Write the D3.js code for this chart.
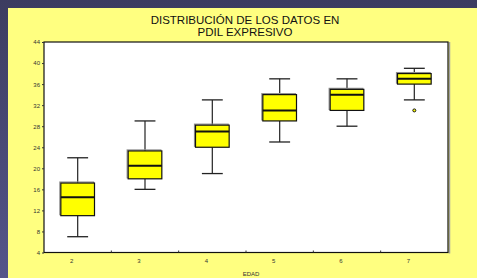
<!DOCTYPE html>
<html>
<head>
<meta charset="utf-8">
<script src="https://cdn.jsdelivr.net/npm/d3@7"></script>
<style>
  html, body { margin: 0; padding: 0; background: #3d3d62; }
  svg { display: block; }
</style>
</head>
<body>
<div id="chart"></div>
<script>
// data
var ages = ["2", "3", "4", "5", "6", "7"];
var whiskerLow = [7, 16, 19, 25, 28, 33];
var q1 = [11, 18, 24, 29, 31, 36];
var median = [14.5, 20.5, 27, 31, 34, 37];
var q3 = [17.2, 23.3, 28.2, 34, 35, 38];
var whiskerHigh = [22, 29, 33, 37, 37, 39];
var outliers = [{ age: "7", value: 31 }];
var yTicks = [4, 8, 12, 16, 20, 24, 28, 32, 36, 40, 44];

var W = 477, H = 278;
var margin = { top: 42, right: 29, bottom: 25.5, left: 44 };

var svg = d3.select("#chart").append("svg")
  .attr("width", W).attr("height", H);

// background gradient on the dark border
var defs = svg.append("defs");
var grad = defs.append("linearGradient").attr("id", "bg")
  .attr("x1", 0).attr("y1", 0).attr("x2", 0).attr("y2", 1);
grad.append("stop").attr("offset", "0%").attr("stop-color", "#3c3c60");
grad.append("stop").attr("offset", "100%").attr("stop-color", "#55558a");
svg.append("rect").attr("width", W).attr("height", H).attr("fill", "url(#bg)");

// yellow panel
svg.append("rect").attr("x", 8).attr("y", 8).attr("width", W - 8).attr("height", H - 8)
  .attr("fill", "#ffff80");

// title
var title = svg.append("text")
  .attr("text-anchor", "middle")
  .attr("font-family", "Liberation Sans, Arial, sans-serif")
  .attr("font-size", 11.5)
  .attr("fill", "#111");
title.append("tspan").attr("x", 245).attr("y", 24).text("DISTRIBUCIÓN DE LOS DATOS EN");
title.append("tspan").attr("x", 245).attr("y", 36).text("PDIL EXPRESIVO");

var pw = W - margin.left - margin.right;
var ph = H - margin.top - margin.bottom;

var g = svg.append("g").attr("transform", "translate(" + margin.left + "," + margin.top + ")");

var x = d3.scaleBand().domain(ages).range([0, pw]).padding(0);
var y = d3.scaleLinear().domain([4, 44]).range([ph, 0]);

// plot frame with a grey shadow on the right
g.append("line").attr("x1", pw + 1.5).attr("x2", pw + 1.5).attr("y1", 0).attr("y2", ph + 1)
  .attr("stroke", "#a0a0a0").attr("stroke-width", 1.5);
g.append("rect").attr("x", 0).attr("y", 0).attr("width", pw).attr("height", ph)
  .attr("fill", "#fff").attr("stroke", "#111").attr("stroke-width", 1.2);

// y axis
var yAxis = g.append("g")
  .call(d3.axisLeft(y).tickValues(yTicks).tickSize(2).tickPadding(2));
yAxis.select(".domain").remove();
yAxis.selectAll("text").attr("font-family", "Liberation Sans, Arial, sans-serif")
  .attr("font-size", 6).attr("fill", "#333");
yAxis.selectAll("line").attr("stroke", "#333");

// x axis: ticks at band boundaries, labels near the band centres
var bounds = ages.slice(1).map(function(a) { return x(a); });
g.selectAll(".xtick").data(bounds).enter().append("line")
  .attr("x1", function(d) { return d; }).attr("x2", function(d) { return d; })
  .attr("y1", ph).attr("y2", ph - 2)
  .attr("stroke", "#333");
g.selectAll(".xlab").data(ages).enter().append("text")
  .attr("x", function(d) { return x(d) + x.bandwidth() / 2 - 6; })
  .attr("y", ph + 10)
  .attr("text-anchor", "middle")
  .attr("font-family", "Liberation Sans, Arial, sans-serif")
  .attr("font-size", 6).attr("fill", "#333")
  .text(function(d) { return d; });

svg.append("text").attr("x", 251).attr("y", 276)
  .attr("text-anchor", "middle")
  .attr("font-family", "Liberation Sans, Arial, sans-serif")
  .attr("font-size", 6).attr("fill", "#333")
  .text("EDAD");

// boxes
var bw = x.bandwidth() / 2;
var capW = bw * 0.62;
ages.forEach(function(a, i) {
  var cx = x(a) + x.bandwidth() / 2;
  // whisker stems
  g.append("line").attr("x1", cx).attr("x2", cx)
    .attr("y1", y(whiskerHigh[i])).attr("y2", y(q3[i]))
    .attr("stroke", "#333").attr("stroke-width", 1.3);
  g.append("line").attr("x1", cx).attr("x2", cx)
    .attr("y1", y(q1[i])).attr("y2", y(whiskerLow[i]))
    .attr("stroke", "#333").attr("stroke-width", 1.3);
  // caps
  [whiskerHigh[i], whiskerLow[i]].forEach(function(v) {
    g.append("line").attr("x1", cx - capW / 2).attr("x2", cx + capW / 2)
      .attr("y1", y(v)).attr("y2", y(v))
      .attr("stroke", "#222").attr("stroke-width", 1.3);
  });
  // box shadow
  g.append("rect").attr("x", cx - bw / 2 - 1).attr("y", y(q3[i]) - 1)
    .attr("width", bw).attr("height", y(q1[i]) - y(q3[i]))
    .attr("fill", "none").attr("stroke", "#909090").attr("stroke-width", 1.2);
  g.append("rect").attr("x", cx - bw / 2).attr("y", y(q3[i]))
    .attr("width", bw).attr("height", y(q1[i]) - y(q3[i]))
    .attr("fill", "#ffff00").attr("stroke", "#111").attr("stroke-width", 1.2);
  g.append("line").attr("x1", cx - bw / 2).attr("x2", cx + bw / 2)
    .attr("y1", y(median[i])).attr("y2", y(median[i]))
    .attr("stroke", "#111").attr("stroke-width", 2);
});

// outliers
g.selectAll(".out").data(outliers).enter().append("circle")
  .attr("cx", function(d) { return x(d.age) + x.bandwidth() / 2; })
  .attr("cy", function(d) { return y(d.value); })
  .attr("r", 1.5)
  .attr("fill", "#ffff00").attr("stroke", "#111").attr("stroke-width", 1);
</script>
</body>
</html>
